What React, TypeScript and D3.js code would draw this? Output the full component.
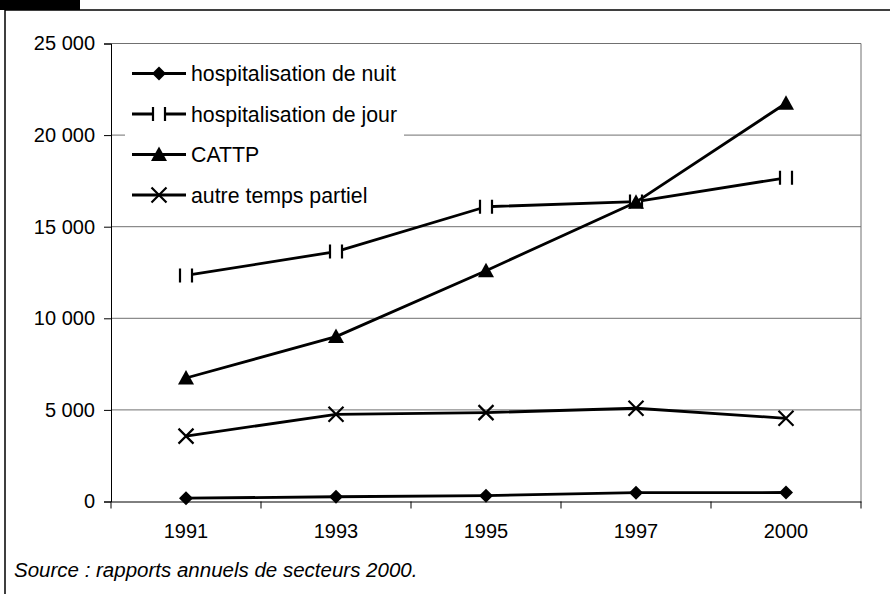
import * as d3 from "d3";
import { useEffect, useRef } from "react";

// --- data ---
const years = ["1991", "1993", "1995", "1997", "2000"];
const nuit = [180, 260, 320, 480, 490];
const jour = [12340, 13640, 16090, 16370, 17670];
const cattp = [6740, 9000, 12600, 16340, 21740];
const autre = [3570, 4760, 4850, 5090, 4540];
const yTicks = [0, 5000, 10000, 15000, 20000, 25000];
const seriesNames = [
  "hospitalisation de nuit",
  "hospitalisation de jour",
  "CATTP",
  "autre temps partiel",
];
const sourceText = "Source : rapports annuels de secteurs 2000.";

type Marker = "diamond" | "bars" | "triangle" | "cross";

export default function App() {
  const ref = useRef<SVGSVGElement>(null);

  useEffect(() => {
    const width = 890;
    const height = 594;
    const plot = { left: 111, right: 861, top: 43.5, bottom: 501.5 };
    const font = "'Liberation Sans', Arial, sans-serif";

    const svg = d3.select(ref.current)
      .attr("width", width)
      .attr("height", height)
      .style("font-family", font);
    svg.selectAll("*").remove();

    svg.append("rect").attr("width", width).attr("height", height).attr("fill", "#fff");

    // frame: black tab + top / left rules
    svg.append("rect").attr("x", 0).attr("y", 0).attr("width", 80).attr("height", 10).attr("fill", "#000");
    svg.append("path")
      .attr("d", `M5,${height} V10 H${width}`)
      .attr("fill", "none")
      .attr("stroke", "#000")
      .attr("stroke-width", 1.5);

    const x = d3.scaleBand().domain(years).range([plot.left, plot.right]).padding(0);
    const y = d3.scaleLinear().domain([0, 25000]).range([plot.bottom, plot.top]);
    const cx = (d: string) => (x(d) as number) + x.bandwidth() / 2;

    const fmt = d3.formatLocale({ decimal: ",", thousands: " ", grouping: [3], currency: ["", ""] }).format(",d");

    // gridlines + plot border
    svg.append("g")
      .selectAll("line")
      .data(yTicks.filter(t => t > 0))
      .join("line")
      .attr("x1", plot.left).attr("x2", plot.right)
      .attr("y1", d => y(d)).attr("y2", d => y(d))
      .attr("stroke", "#707070").attr("stroke-width", 1);
    svg.append("line")
      .attr("x1", plot.right).attr("x2", plot.right)
      .attr("y1", plot.top).attr("y2", plot.bottom)
      .attr("stroke", "#707070").attr("stroke-width", 1);

    // y axis
    const yAxis = svg.append("g")
      .attr("transform", `translate(${plot.left},0)`)
      .call(d3.axisLeft(y).tickValues(yTicks).tickSize(7).tickPadding(9).tickFormat(d => fmt(d as number)));
    yAxis.select(".domain").attr("stroke", "#000");
    yAxis.selectAll(".tick line").attr("stroke", "#000");
    yAxis.selectAll("text").attr("font-size", 20).attr("font-family", font).attr("fill", "#000");

    // x axis
    const xAxis = svg.append("g")
      .attr("transform", `translate(0,${plot.bottom})`)
      .call(d3.axisBottom(x).tickSize(0).tickPadding(22));
    xAxis.select(".domain").attr("stroke", "#000");
    xAxis.selectAll(".tick line").remove();
    xAxis.selectAll("text").attr("font-size", 20).attr("font-family", font).attr("fill", "#000");
    const bounds = years.map(d => x(d) as number).concat([plot.right]);
    xAxis.selectAll("line.sep")
      .data(bounds)
      .join("line")
      .attr("class", "sep")
      .attr("x1", d => d).attr("x2", d => d)
      .attr("y1", 0).attr("y2", 7)
      .attr("stroke", "#000");

    // legend background
    const legend = { x: 125, y: 52, w: 279, h: 162 };
    svg.append("rect")
      .attr("x", legend.x).attr("y", legend.y)
      .attr("width", legend.w).attr("height", legend.h)
      .attr("fill", "#fff");

    const drawMarker = (g: d3.Selection<SVGGElement, unknown, null, undefined>, kind: Marker, px: number, py: number) => {
      if (kind === "diamond") {
        g.append("path")
          .attr("d", `M${px},${py - 7} L${px + 7},${py} L${px},${py + 7} L${px - 7},${py} Z`)
          .attr("fill", "#000");
      } else if (kind === "triangle") {
        g.append("path")
          .attr("d", `M${px},${py - 8} L${px + 8},${py + 6.5} L${px - 8},${py + 6.5} Z`)
          .attr("fill", "#000");
      } else if (kind === "cross") {
        g.append("path")
          .attr("d", `M${px - 7.5},${py - 7.5} L${px + 7.5},${py + 7.5} M${px + 7.5},${py - 7.5} L${px - 7.5},${py + 7.5}`)
          .attr("stroke", "#000").attr("stroke-width", 2.2).attr("fill", "none");
      } else {
        g.append("rect")
          .attr("x", px - 7).attr("y", py - 7).attr("width", 14).attr("height", 14)
          .attr("fill", "#fff");
        g.append("path")
          .attr("d", `M${px - 6},${py - 7} V${py + 7} M${px + 6},${py - 7} V${py + 7}`)
          .attr("stroke", "#000").attr("stroke-width", 2.2);
      }
    };

    const series: { values: number[]; marker: Marker }[] = [
      { values: nuit, marker: "diamond" },
      { values: jour, marker: "bars" },
      { values: cattp, marker: "triangle" },
      { values: autre, marker: "cross" },
    ];

    const line = d3.line<number>()
      .x((_, i) => cx(years[i]))
      .y(d => y(d));

    series.forEach(s => {
      const g = svg.append("g");
      g.append("path")
        .attr("d", line(s.values))
        .attr("fill", "none")
        .attr("stroke", "#000")
        .attr("stroke-width", 2.8)
        .attr("stroke-linejoin", "round");
      s.values.forEach((v, i) => drawMarker(g, s.marker, cx(years[i]), y(v)));
    });

    // legend entries
    series.forEach((s, i) => {
      const ly = 73.5 + i * 40.5;
      const g = svg.append("g");
      g.append("line")
        .attr("x1", 132).attr("x2", 186)
        .attr("y1", ly).attr("y2", ly)
        .attr("stroke", "#000").attr("stroke-width", 2.8);
      drawMarker(g, s.marker, 159, ly);
      g.append("text")
        .attr("x", 191).attr("y", ly)
        .attr("dy", "0.36em")
        .attr("font-size", 21.3)
        .text(seriesNames[i]);
    });

    // source note
    svg.append("text")
      .attr("x", 14).attr("y", 577)
      .attr("font-size", 20.5)
      .attr("font-style", "italic")
      .text(sourceText);
  }, []);

  return (
    <div style={{ position: "fixed", left: 0, top: 0 }}>
      <svg ref={ref}></svg>
    </div>
  );
}
